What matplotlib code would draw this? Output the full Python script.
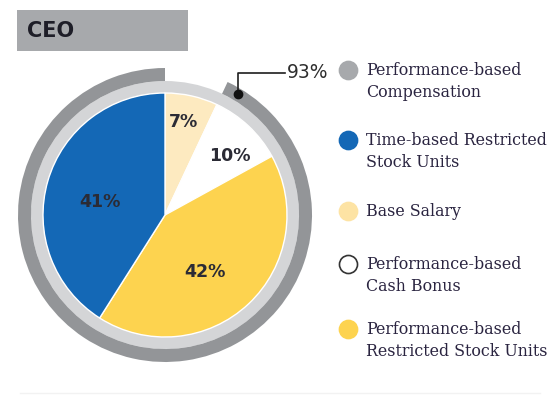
import matplotlib.pyplot as plt
from matplotlib.patches import Wedge, Rectangle
import numpy as np

# data
slice_labels = ["Base Salary", "Performance-based Cash Bonus",
                "Performance-based Restricted Stock Units", "Time-based Restricted Stock Units"]
slice_values = [7, 10, 42, 41]
slice_colors = ['#FDEAC0', '#FFFFFF', '#FDD34F', '#1468B6']
performance_based = 93

legend_labels = ["Performance-based\nCompensation", "Time-based Restricted\nStock Units",
                 "Base Salary", "Performance-based\nCash Bonus",
                 "Performance-based\nRestricted Stock Units"]
legend_colors = ['#A7A9AC', '#1468B6', '#FDE3A4', '#FFFFFF', '#FDD34F']

W, H = 552, 401
fig = plt.figure(figsize=(5.52, 4.01), dpi=100)
ax = fig.add_axes([0, 0, 1, 1])

def Y(y):
    return H - y

cx, cy = 165, Y(215)
R = 122

# title box
ax.add_patch(Rectangle((17, Y(51)), 171, 41, facecolor='#A7A9AC', edgecolor='none'))
ax.text(27, Y(31), "CEO", fontsize=15, fontweight='bold', color='#1E1E28',
        va='center', ha='left', family='DejaVu Sans')

# outer rings
ax.add_patch(Wedge((cx, cy), R + 12, 0, 360, width=12, facecolor='#D4D5D7', edgecolor='none'))
gap = 360 * (100 - performance_based) / 100
ax.add_patch(Wedge((cx, cy), R + 25, 90, 90 - gap + 360, width=13,
                   facecolor='#939598', edgecolor='none'))

# pie
wedges, _ = ax.pie(slice_values, colors=slice_colors, startangle=90, counterclock=False,
                   center=(cx, cy), radius=R, frame=True,
                   wedgeprops=dict(edgecolor='white', linewidth=1))
ax.set_xlim(0, W)
ax.set_ylim(0, H)
ax.set_aspect('equal')
ax.axis('off')

# slice labels
label_pos = [(184, 122), (230, 156), (205, 272), (100, 202)]
for v, (x, y) in zip(slice_values, label_pos):
    ax.text(x, Y(y), f"{v}%", fontsize=12.5, fontweight='bold', color='#2B2B35',
            ha='center', va='center', family='DejaVu Sans')

# 93% callout
a = np.deg2rad(90 - gap - 6)
dx, dy = cx + 141 * np.cos(a), cy + 141 * np.sin(a)
ax.plot([dx, dx, 285], [dy, Y(73), Y(73)], color='#1E1E1E', lw=1.2)
ax.plot(dx, dy, 'o', color='#111111', ms=6)
ax.text(287, Y(73), f"{performance_based}%", fontsize=13.5, color='#2E2E2E',
        ha='left', va='center', family='DejaVu Sans')

# legend
marker_y = [70, 140, 211, 264, 329]
for lab, col, my in zip(legend_labels, legend_colors, marker_y):
    ec = '#333333' if col == '#FFFFFF' else col
    ax.plot(348, Y(my), 'o', ms=13, markerfacecolor=col, markeredgecolor=ec, markeredgewidth=1.2)
    ax.text(366, Y(my - 8), lab, fontsize=11.4, color='#2A2440', ha='left', va='top',
            family='DejaVu Serif', linespacing=1.38)

ax.plot([20, 540], [Y(393), Y(393)], color='#F2F2F2', lw=1)

fig.savefig('out.png', dpi=100)
